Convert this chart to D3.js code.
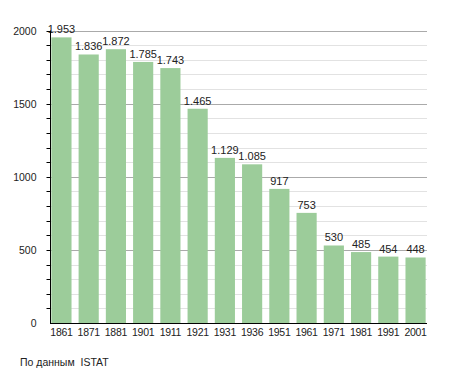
<!DOCTYPE html>
<html>
<head>
<meta charset="utf-8">
<script src="https://cdn.jsdelivr.net/npm/d3@7"></script>
<style>
  body { margin: 0; background: #fff; }
  text { font-family: "Liberation Sans", Arial, sans-serif; fill: #222; }
</style>
</head>
<body>
<script>
const years = ['1861','1871','1881','1901','1911','1921','1931','1936','1951','1961','1971','1981','1991','2001'];
const population = [1953, 1836, 1872, 1785, 1743, 1465, 1129, 1085, 917, 753, 530, 485, 454, 448];
const yTicks = [0, 500, 1000, 1500, 2000];
const source = 'По данным  ISTAT';

const width = 455, height = 373;
const plotLeft = 50, plotRight = 427, plotTop = 30.5, plotBottom = 323;

const svg = d3.select('body').append('svg')
    .attr('width', width)
    .attr('height', height)
    .style('font-size', '10.5px');

const x = d3.scaleBand()
    .domain(years)
    .range([plotLeft, plotRight])
    .paddingInner(0.26)
    .paddingOuter(0.05);

const y = d3.scaleLinear()
    .domain([0, 2000])
    .range([plotBottom, plotTop]);

// minor grid every 100
svg.append('g').selectAll('line')
    .data(d3.range(100, 2001, 100).filter(v => v % 500 !== 0))
    .join('line')
      .attr('x1', plotLeft).attr('x2', plotRight)
      .attr('y1', d => Math.round(y(d)) + 0.5).attr('y2', d => Math.round(y(d)) + 0.5)
      .attr('stroke', '#e2e2e2');

// major grid
svg.append('g').selectAll('line')
    .data(yTicks.filter(v => v > 0))
    .join('line')
      .attr('x1', plotLeft).attr('x2', plotRight)
      .attr('y1', d => Math.round(y(d)) + 0.5).attr('y2', d => Math.round(y(d)) + 0.5)
      .attr('stroke', '#aaa');

svg.append('g').selectAll('rect')
    .data(population)
    .join('rect')
      .attr('x', (d, i) => x(years[i]))
      .attr('y', d => y(d))
      .attr('width', x.bandwidth())
      .attr('height', d => plotBottom - y(d))
      .attr('fill', '#9ccc9a');

const fmt = d3.formatLocale({decimal: ',', thousands: '.', grouping: [3], currency: ['', '']}).format(',');
svg.append('g').selectAll('text')
    .data(population)
    .join('text')
      .attr('x', (d, i) => x(years[i]) + x.bandwidth() / 2)
      .attr('y', d => y(d) - 4)
      .attr('text-anchor', 'middle')
      .style('font-size', '11px')
      .text(d => fmt(d));

// y axis with minor ticks
const yAxis = svg.append('g').attr('transform', `translate(${plotLeft + 0.5},0)`);
yAxis.selectAll('line.minor')
    .data(d3.range(100, 2001, 100))
    .join('line')
      .attr('class', 'minor')
      .attr('x1', -4).attr('x2', 0)
      .attr('y1', d => Math.round(y(d)) + 0.5).attr('y2', d => Math.round(y(d)) + 0.5)
      .attr('stroke', '#000');
yAxis.append('line')
    .attr('y1', y(2000)).attr('y2', plotBottom)
    .attr('stroke', '#000');
yAxis.selectAll('text')
    .data(yTicks)
    .join('text')
      .attr('x', -14)
      .attr('y', d => y(d) + 4)
      .attr('text-anchor', 'end')
      .text(d => d);

// x axis
svg.append('line')
    .attr('x1', plotLeft).attr('x2', plotRight)
    .attr('y1', plotBottom + 0.5).attr('y2', plotBottom + 0.5)
    .attr('stroke', '#000');
svg.append('g').selectAll('text')
    .data(years)
    .join('text')
      .attr('x', d => x(d) + x.bandwidth() / 2)
      .attr('y', plotBottom + 13)
      .attr('text-anchor', 'middle')
      .style('letter-spacing', '-0.3px')
      .text(d => d);

svg.append('text')
    .attr('x', 20)
    .attr('y', 366)
    .style('white-space', 'pre')
    .text(source);
</script>
</body>
</html>
